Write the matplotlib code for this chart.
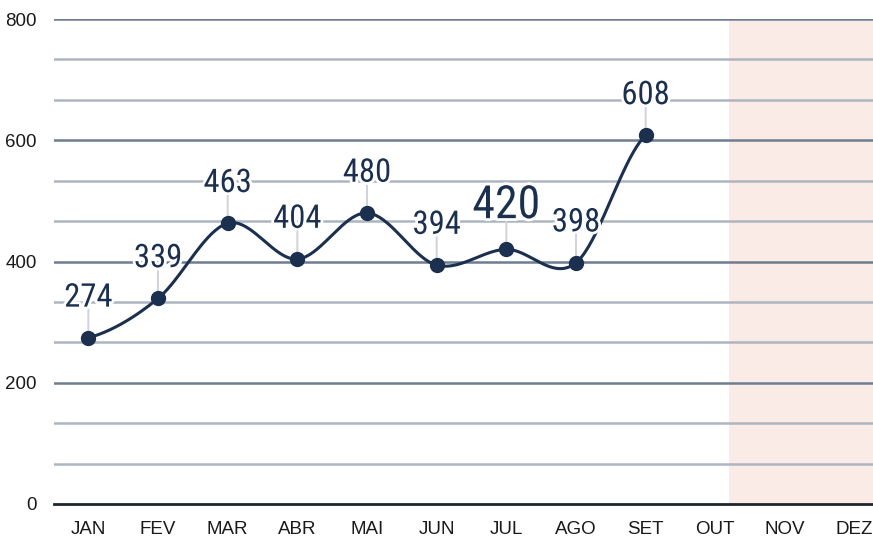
import matplotlib
matplotlib.use("Agg")
import matplotlib.pyplot as plt
import matplotlib.patheffects as pe
from matplotlib import font_manager
import numpy as np

# dados
meses = ["JAN", "FEV", "MAR", "ABR", "MAI", "JUN", "JUL", "AGO", "SET", "OUT", "NOV", "DEZ"]
valores = [274, 339, 463, 404, 480, 394, 420, 398, 608]
destaque = "JUL"
inicio_futuro = 9.19  # onde começa a área sombreada (em unidades de categoria)

cor_linha = "#1b2f4e"


def achar_fonte():
    # procura uma fonte condensada para os rótulos
    arquivos = [f.fname for f in font_manager.fontManager.ttflist]
    for alvo in ["RobotoCondensed-Regular.ttf", "RobotoCondensed[wght].ttf",
                 "RobotoCondensed-VariableFont_wght.ttf", "DejaVuSansCondensed.ttf"]:
        for a in arquivos:
            if a.endswith(alvo):
                return font_manager.FontProperties(fname=a)
    for f in font_manager.fontManager.ttflist:
        if f.name == "Roboto Condensed" and f.style == "normal":
            return font_manager.FontProperties(fname=f.fname)
    return font_manager.FontProperties(family="Roboto")


def catmull_rom(y, passos=40):
    # curva suave passando pelos pontos
    p = np.concatenate([[y[0]], y, [y[-1]]])
    xs, ys = [], []
    for i in range(len(y) - 1):
        p0, p1, p2, p3 = p[i], p[i + 1], p[i + 2], p[i + 3]
        t = np.linspace(0, 1, passos)
        yy = 0.5 * ((2 * p1) + (-p0 + p2) * t + (2 * p0 - 5 * p1 + 4 * p2 - p3) * t ** 2
                    + (-p0 + 3 * p1 - 3 * p2 + p3) * t ** 3)
        xs.append(i + t)
        ys.append(yy)
    return np.concatenate(xs), np.concatenate(ys)


fonte = achar_fonte()

fig = plt.figure(figsize=(8.73, 5.38), dpi=100)
ax = fig.add_axes([53.5 / 873, 34 / 538, 836 / 873, 485 / 538])

ax.set_xlim(-0.5, 11.5)
ax.set_ylim(0, 800)

ax.axvspan(inicio_futuro, 11.5, color="#fbebe6", zorder=0, lw=0)

# linhas de grade
niveis = np.linspace(0, 800, 13)
for k, nv in enumerate(niveis):
    if k == 0:
        ax.axhline(nv, color="#1e2530", lw=2.0, zorder=1, clip_on=False)
    elif k % 3 == 0:
        ax.axhline(nv, color="#6f7d90", lw=1.8, zorder=1)
    else:
        ax.axhline(nv, color="#adb5c0", lw=1.8, zorder=1)

x = np.arange(len(valores))
cx, cy = catmull_rom(np.array(valores, dtype=float))
ax.plot(cx, cy, color=cor_linha, lw=2.2, zorder=3)
ax.plot(x, valores, "o", color=cor_linha, ms=10, zorder=4)

for i, v in enumerate(valores):
    grande = meses[i] == destaque
    fp = fonte.copy()
    fp.set_size(33 if grande else 23.5)
    ax.annotate("", xy=(i, v), xytext=(0, 21), textcoords="offset points",
                arrowprops=dict(arrowstyle="-", color="#cfd3d9", lw=1.4, shrinkA=0, shrinkB=5),
                zorder=2)
    ax.annotate(str(v), xy=(i, v), xytext=(0, 22.5), textcoords="offset points",
                ha="center", va="baseline", fontproperties=fp,
                color=cor_linha, zorder=5,
                path_effects=[pe.withStroke(linewidth=4, foreground="white")])

ax.set_xticks(range(len(meses)))
ax.set_xticklabels(meses)
ax.set_yticks([0, 200, 400, 600, 800])
ax.tick_params(length=0, labelsize=13.5, labelcolor="#1a1a1a")
ax.tick_params(axis="y", pad=12)
ax.tick_params(axis="x", pad=12)
for t in ax.get_xticklabels() + ax.get_yticklabels():
    t.set_family("Liberation Sans")
for s in ax.spines.values():
    s.set_visible(False)

fig.savefig("out.png", dpi=100)
